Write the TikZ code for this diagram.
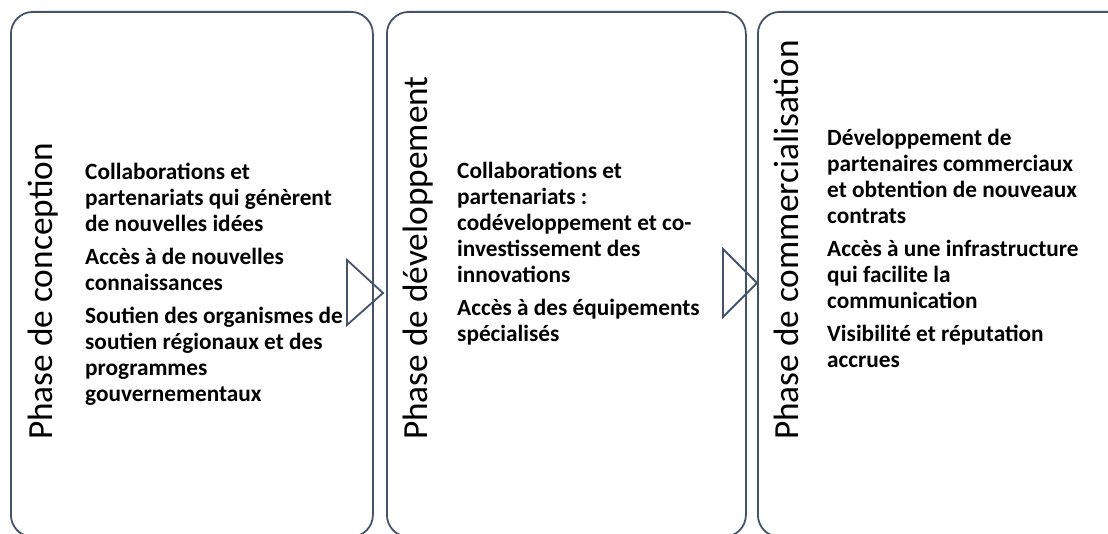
\documentclass[tikz,border=0pt]{standalone}
\usepackage{fontspec}
\setmainfont{Carlito}
\definecolor{edge}{RGB}{68,84,106}
\begin{document}
\begin{tikzpicture}[x=1pt,y=-1pt,
  phasebox/.style={draw=edge, line width=1.8pt, rounded corners=22pt, anchor=north west, inner sep=0pt},
  title/.style={rotate=90, anchor=base west, inner sep=0pt, font=\fontsize{35.3}{42}\selectfont},
  body/.style={anchor=north west, inner sep=0pt, align=left, font=\bfseries\fontsize{23.3}{26}\selectfont},
  flow/.style={draw=edge, line width=1.8pt, line join=miter}]
\useasboundingbox (0,0) rectangle (1108,534);
\clip (0,0) rectangle (1108,534);
\fill[white] (0,0) rectangle (1108,534);
\node[phasebox, minimum width=362pt, minimum height=525pt] (b1) at (10,11) {};
\node[phasebox, minimum width=359pt, minimum height=525pt] (b2) at (386,11) {};
\node[phasebox, minimum width=380pt, minimum height=525pt] (b3) at (757,11) {};
\node[title] (t1) at (52,440) {Phase de conception};
\node[title] (t2) at (427,440) {Phase de développement};
\node[title] (t3) at (798,440) {Phase de commercialisation};
\node[body] (p1) at (85,159) {\rule{0pt}{20pt}Collaborations et\\partenariats qui génèrent\\de nouvelles idées\\[7pt]Accès à de nouvelles\\connaissances\\[7pt]Soutien des organismes de\\soutien régionaux et des\\programmes\\gouvernementaux};
\node[body] (p2) at (457,158) {\rule{0pt}{20pt}Collaborations et\\partenariats :\\codéveloppement et co-\\investissement des\\innovations\\[7pt]Accès à des équipements\\spécialisés};
\node[body] (p3) at (827,125) {\rule{0pt}{20pt}Développement de\\partenaires commerciaux\\et obtention de nouveaux\\contrats\\[7pt]Accès à une infrastructure\\qui facilite la\\communication\\[7pt]Visibilité et réputation\\accrues};
\draw[flow] (347,260) -- (383,293) -- (347,325) -- cycle;
\draw[flow] (723,249) -- (757,283) -- (723,317) -- cycle;
\end{tikzpicture}
\end{document}
